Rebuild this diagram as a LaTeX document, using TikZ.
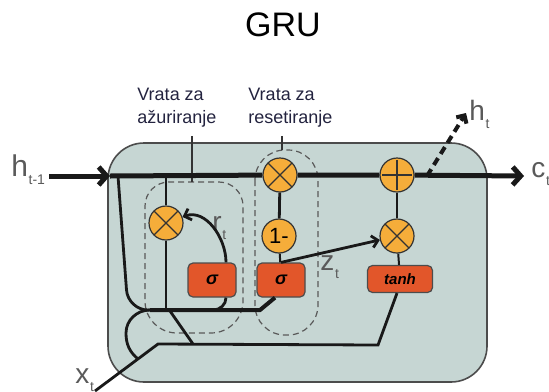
\documentclass[tikz,border=0pt]{standalone}
\usepackage{fontspec}
\setmainfont{Liberation Sans}
\usetikzlibrary{arrows.meta}

\definecolor{cellfill}{HTML}{C6D6D3}
\definecolor{gateorange}{HTML}{F5AD3A}
\definecolor{actred}{HTML}{E2562A}
\definecolor{labelgray}{HTML}{5A5A5A}
\definecolor{labelnavy}{HTML}{23233F}

\newcommand{\varsub}[2]{#1\kern0.3pt\raisebox{-4pt}{\fontsize{7}{7}\selectfont#2}}

\begin{document}
\begin{tikzpicture}[x=0.5pt,y=-0.5pt,
    cellbox/.style={fill=cellfill,draw=black!70,line width=0.8pt,rounded corners=18pt},
    gatedash/.style={draw=black!65,line width=0.6pt,dash pattern=on 3pt off 2pt},
    op/.style={circle,draw=black!80,fill=gateorange,line width=0.6pt,minimum size=17pt,inner sep=0pt,
        font=\fontsize{11}{11}\selectfont},
    mulop/.style={op,path picture={
        \draw[black!80,line width=0.6pt]
            ([xshift=-6pt,yshift=6pt]path picture bounding box.center) -- ([xshift=6pt,yshift=-6pt]path picture bounding box.center)
            ([xshift=-6pt,yshift=-6pt]path picture bounding box.center) -- ([xshift=6pt,yshift=6pt]path picture bounding box.center);}},
    addop/.style={op,path picture={
        \draw[black!80,line width=0.6pt]
            ([xshift=-7.5pt]path picture bounding box.center) -- ([xshift=7.5pt]path picture bounding box.center)
            ([yshift=-7.5pt]path picture bounding box.center) -- ([yshift=7.5pt]path picture bounding box.center);}},
    act/.style={rectangle,rounded corners=2.5pt,draw=black!70,fill=actred,line width=0.6pt,
        minimum width=24pt,minimum height=17pt,inner sep=0pt,font=\bfseries\itshape\fontsize{9}{9}\selectfont},
    mainline/.style={line width=2.5pt,black!90},
    busline/.style={line width=2pt,black!90},
    wire/.style={line width=1.4pt,black!90},
    thinwire/.style={line width=1pt,black!90},
    hline/.style={line width=2pt,black!90,dash pattern=on 4pt off 2.5pt},
    bigarrow/.style={-{Straight Barb[length=4pt,width=9pt]}},
    arrowed/.style={-{Straight Barb[length=3pt,width=6pt]}},
    varlabel/.style={labelgray,anchor=base west,inner sep=0pt,font=\fontsize{14}{14}\selectfont},
    gatelabel/.style={labelnavy,anchor=north west,inner sep=0pt,align=left,font=\fontsize{9}{11.5}\selectfont}]
    \useasboundingbox (0,0) rectangle (549,391);

    % cell and gate regions
    \draw[cellbox] (108,143) rectangle (487,382);
    \draw[gatedash] (194,182) [rounded corners=12pt] -- (243,182) -- (243,260)
        [rounded corners=16pt] -- (243,333) -- (145,333) -- (145,260)
        [rounded corners=12pt] -- (145,182) -- cycle;
    \draw[gatedash,rounded corners=15pt] (255,150) rectangle (318,335);

    % labels
    \node[font=\fontsize{17}{17}\selectfont] (title) at (283,25) {GRU};
    \node[gatelabel] (uplbl) at (137,88) {Vrata za\\ažuriranje};
    \node[gatelabel] (relbl) at (248,88) {Vrata za\\resetiranje};
    \node[varlabel,font=\fontsize{15}{15}\selectfont] (hprev) at (11,176) {\varsub{h}{t-1}};
    \node[varlabel] (ht) at (469,120) {\varsub{h}{t}};
    \node[varlabel] (ct) at (531,177) {\varsub{c}{t}};
    \node[varlabel] (xt) at (75,383) {\varsub{x}{t}};
    \node[varlabel] (rt) at (212,231) {\varsub{r}{t}};
    \node[varlabel] (zt) at (320,270) {\varsub{z}{t}};

    % operations
    \node[mulop] (ux) at (166,223) {};
    \node[mulop] (rx) at (280,175) {};
    \node[op] (omz) at (279,236) {1-};
    \node[addop] (add) at (397,175) {};
    \node[mulop] (rmul) at (397,236) {};
    \node[act] (usig) at (212,280) {σ};
    \node[act] (msig) at (281,280) {σ};
    \node[act,minimum width=32.5pt,minimum height=13.5pt,font=\bfseries\itshape\fontsize{7.5}{7.5}\selectfont] (tanh) at (400,279) {tanh};

    \coordinate (start) at (110,176);
    \coordinate (cend) at (524,176);
    \coordinate (utop) at (166,176);
    \coordinate (ubot) at (166,309);
    \coordinate (lft) at (118,176);
    \coordinate (lftcorner) at (128,310);
    \coordinate (busL) at (150,310);
    \coordinate (busR) at (260,310);
    \coordinate (busU) at (213,310);
    \coordinate (loopW) at (126,333);
    \coordinate (xin) at (95,391);
    \coordinate (xjoin) at (138,359);
    \coordinate (xcorner) at (158,344);
    \coordinate (tcorner) at (378,345);
    \coordinate (cut1) at (170,311);
    \coordinate (cut2) at (193,344);
    \coordinate (hbranch) at (427,176);
    \coordinate (hend) at (466,113);
    \coordinate (utick) at (192,182);
    \coordinate (rtick) at (282,150);

    % ticks from the labels
    \draw[black!80,line width=0.6pt] (uplbl.south -| utick) ++(0,8) -- (utick);
    \draw[black!80,line width=0.6pt] (relbl.south -| rtick) ++(0,8) -- (rtick);

    % connections
    \draw[mainline,bigarrow] (hprev.base east) ++(4,0) -- (start);
    \draw[mainline,bigarrow] (start) -- (rx) -- (add) -- (cend);
    \draw[thinwire] (utop) -- (ux) -- (ubot);
    \draw[wire,arrowed] ([xshift=7pt]usig.north) to[out=90,in=20] (ux);
    \draw[wire] (busU) to[out=0,in=-90] ([xshift=7pt]usig.south);
    \draw[busline] (busL) -- (busR) -- ([xshift=-3pt]msig.south);
    \draw[wire,rounded corners=10pt] (lft) -- (lftcorner) -- (busL);
    \draw[wire] (busL) to[out=180,in=90] (loopW) to[out=-90,in=140] (xjoin);
    \draw[wire] (xin) -- (xcorner) -- (tcorner) -- ([xshift=-1.5pt]tanh.south);
    \draw[wire] (cut1) -- (cut2);
    \draw[thinwire] (msig) -- (omz);
    \draw[wire] (omz) -- (rx);
    \draw[wire,arrowed] (msig.north) -- (rmul);
    \draw[thinwire] (tanh) -- (rmul);
    \draw[wire] (rmul) -- (add);
    \draw[hline,arrowed] (hbranch) -- (hend);
\end{tikzpicture}
\end{document}
